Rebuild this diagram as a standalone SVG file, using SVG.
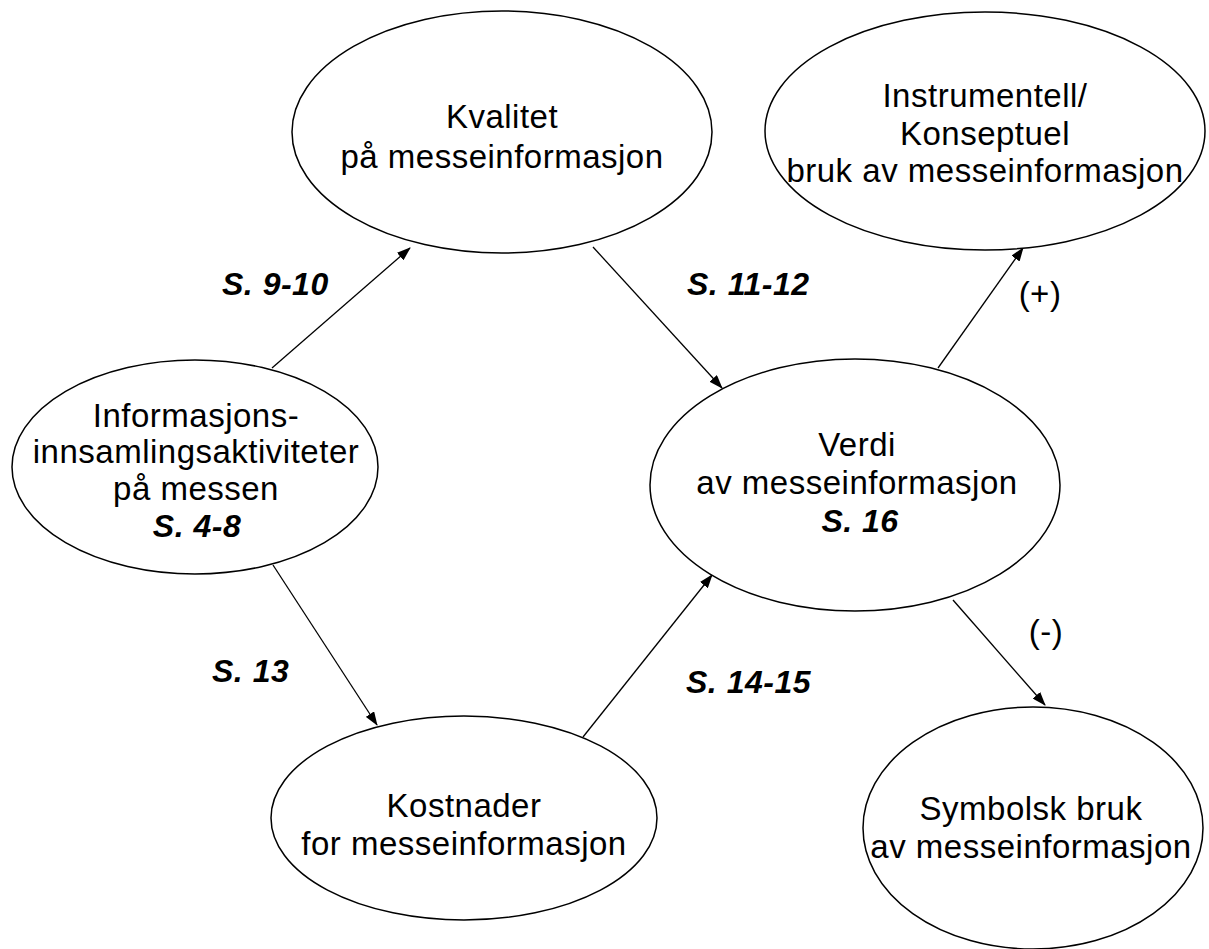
<svg xmlns="http://www.w3.org/2000/svg" width="1209" height="949" viewBox="0 0 1209 949">
<style>
.n{fill:#fff;stroke:#000;stroke-width:1.5}
.t{font-family:"Liberation Sans",Arial,sans-serif;font-size:33px;letter-spacing:0.5px;fill:#000;text-anchor:middle}
.b{font-family:"Liberation Sans",Arial,sans-serif;font-size:32px;font-weight:bold;font-style:italic;letter-spacing:0.5px;fill:#000}
.c{stroke:#000;stroke-width:1.3;fill:none;marker-end:url(#ah)}
</style>
<defs>
<marker id="ah" markerUnits="userSpaceOnUse" markerWidth="14" markerHeight="10" refX="13" refY="5" orient="auto">
<path d="M0,0 L14,5 L0,10 Z" fill="#000"/>
</marker>
</defs>
<rect width="1209" height="949" fill="#fff"/>
<g id="connectors">
<line class="c" x1="272" y1="368" x2="410" y2="248"/>
<line class="c" x1="593" y1="247" x2="722" y2="388"/>
<line class="c" x1="273" y1="565" x2="377" y2="725"/>
<line class="c" x1="583" y1="737" x2="712" y2="575"/>
<line class="c" x1="938" y1="368" x2="1023" y2="248"/>
<line class="c" x1="953" y1="600" x2="1045" y2="705"/>
</g>
<g id="kvalitet">
<ellipse class="n" cx="502" cy="132" rx="210" ry="121"/>
<text class="t" x="502" y="128">Kvalitet</text>
<text class="t" x="502" y="168">på messeinformasjon</text>
</g>
<g id="instrumentell">
<ellipse class="n" cx="985" cy="131" rx="220" ry="119"/>
<text class="t" x="985" y="107">Instrumentell/</text>
<text class="t" x="985" y="145">Konseptuel</text>
<text class="t" x="985" y="182">bruk av messeinformasjon</text>
</g>
<g id="informasjon">
<ellipse class="n" cx="195" cy="467" rx="183" ry="107"/>
<text class="t" x="196" y="427">Informasjons-</text>
<text class="t" x="196" y="463">innsamlingsaktiviteter</text>
<text class="t" x="196" y="500">på messen</text>
<text class="b" x="197" y="537" text-anchor="middle">S. 4-8</text>
</g>
<g id="verdi">
<ellipse class="n" cx="855" cy="485" rx="205" ry="126"/>
<text class="t" x="857" y="456">Verdi</text>
<text class="t" x="857" y="494">av messeinformasjon</text>
<text class="b" x="860" y="532" text-anchor="middle">S. 16</text>
</g>
<g id="kostnader">
<ellipse class="n" cx="464" cy="818" rx="193" ry="102"/>
<text class="t" x="464" y="817">Kostnader</text>
<text class="t" x="464" y="855">for messeinformasjon</text>
</g>
<g id="symbolsk">
<ellipse class="n" cx="1033" cy="828" rx="170" ry="121"/>
<text class="t" x="1031" y="820">Symbolsk bruk</text>
<text class="t" x="1031" y="858">av messeinformasjon</text>
</g>
<g id="labels">
<text class="b" x="222" y="295">S. 9-10</text>
<text class="b" x="687" y="295">S. 11-12</text>
<text class="b" x="212" y="682">S. 13</text>
<text class="b" x="686" y="693">S. 14-15</text>
<text class="t" x="1040" y="305">(+)</text>
<text class="t" x="1046" y="643">(-)</text>
</g>
</svg>
